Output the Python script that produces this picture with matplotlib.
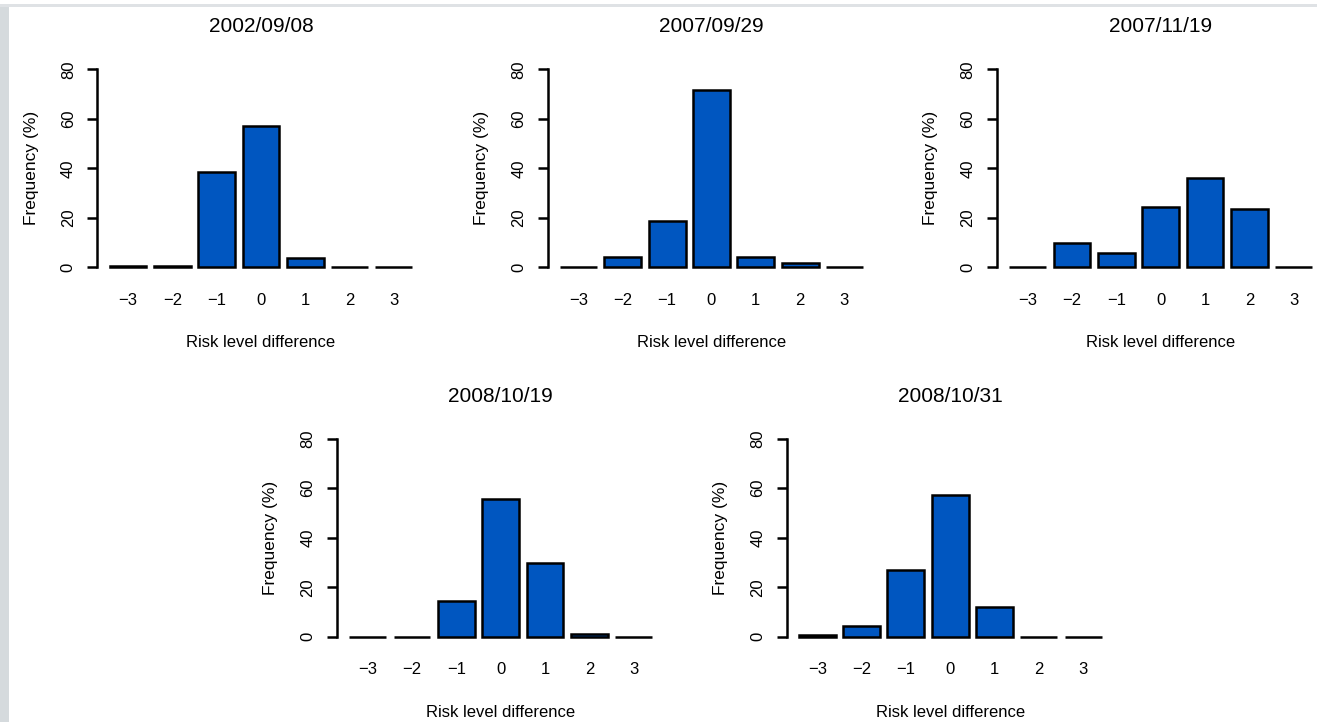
import matplotlib
matplotlib.use("Agg")
import matplotlib.pyplot as plt
from matplotlib.patches import Rectangle

plt.rcParams['font.family'] = ['Liberation Sans', 'DejaVu Sans']

# ---- data ----
levels = [-3, -2, -1, 0, 1, 2, 3]
tick_labels = ["\u22123", "\u22122", "\u22121", "0", "1", "2", "3"]
titles = ["2002/09/08", "2007/09/29", "2007/11/19", "2008/10/19", "2008/10/31"]
freq_2002_09_08 = [0.6, 0.6, 38.7, 56.9, 3.6, 0.0, 0.0]
freq_2007_09_29 = [0.0, 4.2, 18.9, 71.5, 4.2, 1.6, 0.0]
freq_2007_11_19 = [0.0, 9.7, 5.7, 24.5, 36.0, 23.6, 0.0]
freq_2008_10_19 = [0.0, 0.0, 14.3, 55.7, 29.9, 1.0, 0.0]
freq_2008_10_31 = [0.7, 4.3, 26.9, 57.2, 11.8, 0.0, 0.0]
series = [freq_2002_09_08, freq_2007_09_29, freq_2007_11_19,
          freq_2008_10_19, freq_2008_10_31]
yticks = [0, 20, 40, 60, 80]

W, H = 1317, 722
fig = plt.figure(figsize=(W / 100, H / 100), dpi=100)
fig.patch.set_facecolor('white')

# page decorations (light gray frame at left and top)
fig.patches.append(Rectangle((0, 0), 8.7 / W, (H - 7) / H, transform=fig.transFigure,
                             facecolor='#d5dadd', edgecolor='none', zorder=0))
fig.patches.append(Rectangle((0, (H - 7) / H), 1, 3 / H, transform=fig.transFigure,
                             facecolor='#dfe2e5', edgecolor='none', zorder=0))

# panel layout in pixels: (x of axes left, y pixel of value 0)
spacing = 44.33
kpx = 198 / 80.0
xlo, xhi = -3.69, 3.69
ylo, yhi = -3.2, 83.2
panel_pos = [(97.4, 267.3), (547.8, 267.3), (997.1, 267.3),
             (337.1, 636.7), (786.7, 636.7)]

bar_color = '#0056C0'
lw = 1.8

for title, vals, (left_px, y0_px) in zip(titles, series, panel_pos):
    wpx = (xhi - xlo) * spacing
    hpx = (yhi - ylo) * kpx
    bottom_px = y0_px - ylo * kpx  # pixel (from top) of axes bottom
    ax = fig.add_axes([left_px / W, (H - bottom_px) / H, wpx / W, hpx / H])
    ax.set_facecolor('none')
    ax.bar(levels, vals, width=1 / 1.2, color=bar_color, edgecolor='black',
           linewidth=lw, zorder=3)
    ax.set_xlim(xlo, xhi)
    ax.set_ylim(ylo, yhi)
    for s in ['top', 'right', 'bottom']:
        ax.spines[s].set_visible(False)
    ax.spines['left'].set_bounds(0, 80)
    ax.spines['left'].set_linewidth(lw)
    ax.set_yticks(yticks)
    ax.set_yticklabels([str(v) for v in yticks], rotation=90, va='center')
    ax.tick_params(axis='y', length=7.5, width=lw, pad=8, labelsize=12)
    ax.set_xticks(levels)
    ax.set_xticklabels(tick_labels)
    ax.tick_params(axis='x', length=0, pad=12.5, labelsize=12)
    ax.set_xlabel("Risk level difference", fontsize=12, labelpad=20)
    ax.set_ylabel("Frequency (%)", fontsize=12.5, labelpad=16)
    ax.set_title(title, fontsize=15, pad=21)

fig.savefig("out.png", dpi=100)
